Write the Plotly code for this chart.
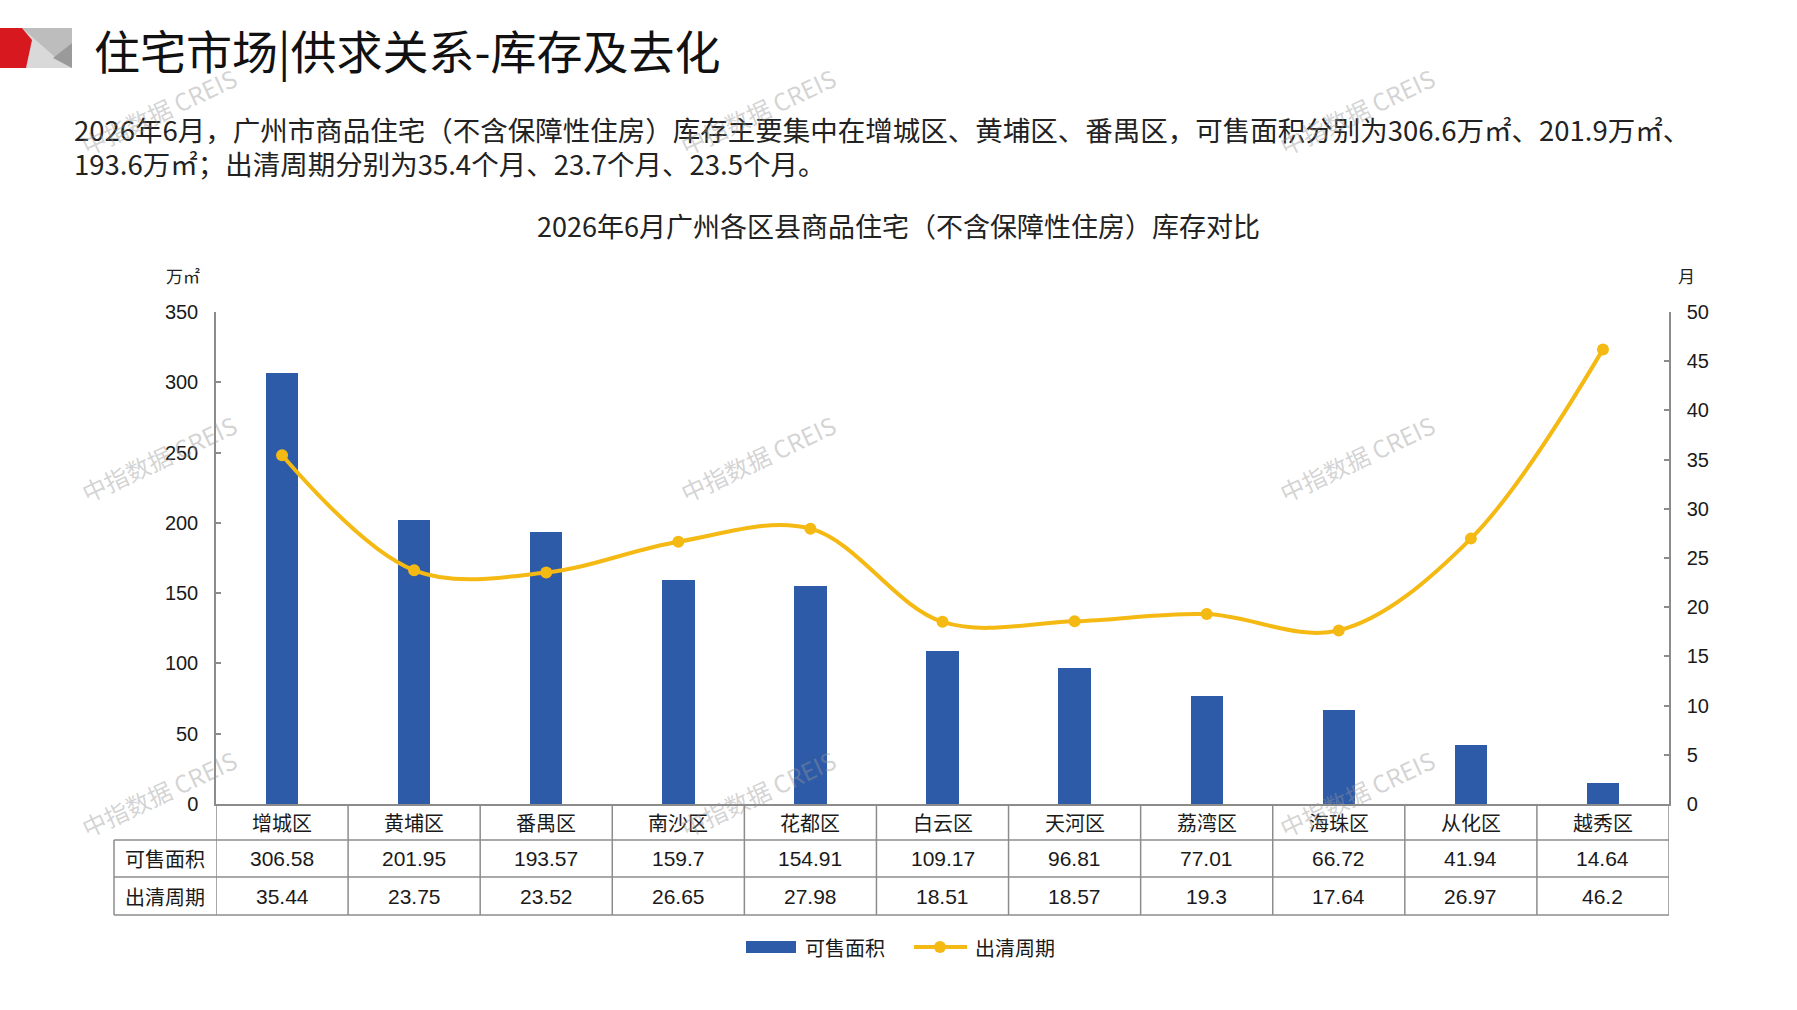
import plotly.graph_objects as go

# 数据
districts = ["增城区", "黄埔区", "番禺区", "南沙区", "花都区", "白云区",
             "天河区", "荔湾区", "海珠区", "从化区", "越秀区"]
area = [306.58, 201.95, 193.57, 159.7, 154.91, 109.17, 96.81, 77.01, 66.72, 41.94, 14.64]
cycle = [35.44, 23.75, 23.52, 26.65, 27.98, 18.51, 18.57, 19.3, 17.64, 26.97, 46.2]
row_names = ["可售面积", "出清周期"]

page_title = "住宅市场|供求关系-库存及去化"
summary = ["2026年6月，广州市商品住宅（不含保障性住房）库存主要集中在增城区、黄埔区、番禺区，可售面积分别为306.6万㎡、201.9万㎡、",
           "193.6万㎡；出清周期分别为35.4个月、23.7个月、23.5个月。"]
chart_title = "2026年6月广州各区县商品住宅（不含保障性住房）库存对比"
watermark = "中指数据 CREIS"

BLUE = "#2E5BA8"
YELLOW = "#F5B914"
GRID = "#8c8c8c"
CJK = "Noto Sans CJK SC"
NUM = "Liberation Sans"

W, H = 1797, 1010
L, R, T, B = 216, 1669, 312, 804


def px(x):
    return (x - L) / (R - L)


def py(y):
    return (B - y) / (B - T)


def label(text, x, y, size, family=CJK, xanchor="center", color="#1a1a1a", xref="paper", **kw):
    return dict(text=text, x=x, y=py(y), xref=xref, yref="paper", xanchor=xanchor,
                yanchor="middle", showarrow=False,
                font=dict(family=family, size=size, color=color), **kw)


fig = go.Figure()
fig.add_trace(go.Bar(x=districts, y=area, name=row_names[0], width=0.245,
                     marker=dict(color=BLUE, line_width=0)))
fig.add_trace(go.Scatter(x=districts, y=cycle, name=row_names[1], yaxis="y2",
                         mode="lines+markers",
                         line=dict(color=YELLOW, width=4, shape="spline", smoothing=1),
                         marker=dict(color=YELLOW, size=12)))

axis_style = dict(showgrid=False, zeroline=False, showline=True, linecolor=GRID, linewidth=1.5,
                  ticks="inside", ticklen=5, tickcolor=GRID, tickwidth=1.5,
                  tickfont=dict(family=NUM, size=20, color="#1a1a1a"))

fig.update_layout(
    width=W, height=H,
    margin=dict(l=L, r=W - R, t=T, b=H - B, autoexpand=False),
    paper_bgcolor="white", plot_bgcolor="white",
    showlegend=False,
    bargap=0,
    xaxis=dict(type="category", range=[-0.5, 10.5], showgrid=False, zeroline=False,
               showline=True, linecolor=GRID, linewidth=1.5, showticklabels=False, ticks=""),
    yaxis=dict(range=[0, 350], dtick=50, ticklabelstandoff=12, **axis_style),
    yaxis2=dict(range=[0, 50], dtick=5, overlaying="y", side="right", ticklabelstandoff=12,
                **axis_style),
)

shapes = []
ann = []


# 左上角标识
def poly(points, color):
    path = "M " + " L ".join(f"{px(x)},{py(y)}" for x, y in points) + " Z"
    shapes.append(dict(type="path", xref="paper", yref="paper", path=path,
                       fillcolor=color, line_width=0, layer="above"))


poly([(22, 28), (72, 28), (72, 68), (22, 68)], "#d9d9d9")
poly([(22, 28), (72, 28), (72, 43), (55, 57)], "#bdbdbd")
poly([(72, 43), (72, 68), (53, 58)], "#9a9a9a")
poly([(0, 28), (22, 28), (32, 40), (26, 68), (0, 68)], "#d7191f")

ann.append(label(page_title, px(92), 49, 46, xanchor="left", color="#111111"))
for i, line in enumerate(summary):
    ann.append(label(line, px(72), 129 + 34 * i, 27.5, xanchor="left", color="#222222"))
ann.append(label(chart_title, px(W / 2), 225, 27, color="#222222"))
ann.append(label("万㎡", px(183), 275, 17, color="#222222"))
ann.append(label("月", px(1687), 275, 17, color="#222222"))

# 数据表
rows = [804, 840, 877, 915]
for y in rows[1:]:
    shapes.append(dict(type="line", xref="paper", yref="paper", x0=px(114), x1=px(R),
                       y0=py(y), y1=py(y), line=dict(color=GRID, width=1.5)))
shapes.append(dict(type="line", xref="paper", yref="paper", x0=px(114), x1=px(114),
                   y0=py(rows[1]), y1=py(rows[3]), line=dict(color=GRID, width=1.5)))
for k in range(len(districts) + 1):
    shapes.append(dict(type="line", xref="x", yref="paper", x0=k - 0.5, x1=k - 0.5,
                       y0=py(rows[0]), y1=py(rows[3]), line=dict(color=GRID, width=1.5)))

centers = [(rows[i] + rows[i + 1]) / 2 for i in range(3)]
for i, d in enumerate(districts):
    ann.append(label(d, i, centers[0], 20, xref="x"))
    ann.append(label(str(area[i]), i, centers[1], 21, family=NUM, xref="x"))
    ann.append(label(str(cycle[i]), i, centers[2], 21, family=NUM, xref="x"))
for j, name in enumerate(row_names):
    ann.append(label(name, px(165), centers[j + 1], 20))

# 图例
shapes.append(dict(type="rect", xref="paper", yref="paper", x0=px(746), x1=px(796),
                   y0=py(953), y1=py(941), fillcolor=BLUE, line_width=0))
shapes.append(dict(type="line", xref="paper", yref="paper", x0=px(914), x1=px(967),
                   y0=py(947), y1=py(947), line=dict(color=YELLOW, width=4)))
shapes.append(dict(type="circle", xref="paper", yref="paper", x0=px(934), x1=px(946),
                   y0=py(953), y1=py(941), fillcolor=YELLOW, line_width=0))
ann.append(label(row_names[0], px(803), 947, 20, xanchor="left"))
ann.append(label(row_names[1], px(973), 947, 20, xanchor="left"))

# 水印
for wx in (158, 757, 1356):
    for wy in (111, 458, 793):
        ann.append(label(watermark, px(wx), wy, 24, textangle=-25,
                         color="rgba(150,150,150,0.42)"))

fig.update_layout(shapes=shapes, annotations=ann)

fig.write_html("out.html", config={"displayModeBar": False},
               post_script="document.body.style.margin='0';")
